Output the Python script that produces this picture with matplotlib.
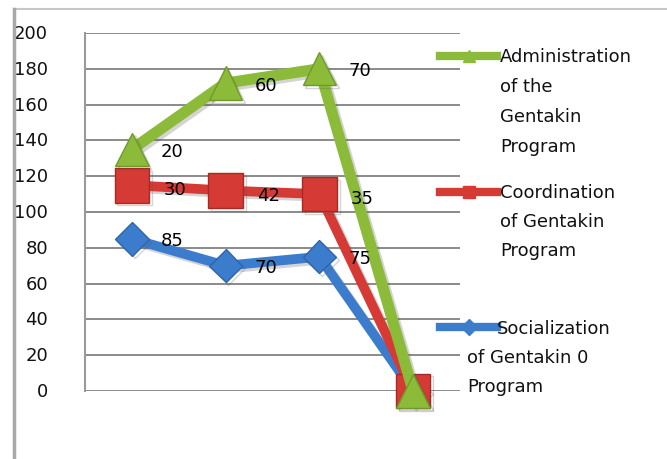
import matplotlib
matplotlib.use("Agg")
import matplotlib.pyplot as plt
from matplotlib.lines import Line2D
import matplotlib.patheffects as pe
import numpy as np

categories = ["1", "2", "3", "4"]
socialization = [85, 70, 75, 0]
coordination = [30, 42, 35, 0]
administration = [20, 60, 70, 0]
yticks = [0, 20, 40, 60, 80, 100, 120, 140, 160, 180, 200]

W, H = 667, 460
fig = plt.figure(figsize=(W / 100, H / 100), dpi=100)
fig.patch.set_facecolor("white")


def fx(x):
    return x / W


def fy(y):
    return 1 - y / H


ax = fig.add_axes([fx(85), fy(392), fx(460) - fx(85), fy(34) - fy(392)])
ax.set_xlim(-0.5, 3.5)
ax.set_ylim(0, 200)
ax.set_yticks(yticks)
ax.set_yticklabels([])
ax.set_xticks([])
for s in ["top", "right", "bottom"]:
    ax.spines[s].set_visible(False)
ax.spines["left"].set_color("#9a9a9a")
ax.spines["left"].set_linewidth(1.5)
ax.tick_params(axis="y", length=0)
for t in yticks:
    ax.axhline(t, color="#8a8a8a", lw=1.4, zorder=0)

# y tick labels (placed outside to the left, right aligned)
for t in yticks:
    ax.annotate(str(t), xy=(0, t), xycoords=("axes fraction", "data"),
                xytext=(-37 * 0.72, 0), textcoords="offset points",
                ha="right", va="center", fontsize=13, color="#111111")

x = np.arange(len(categories))
s1 = np.array(socialization, dtype=float)
s2 = s1 + np.array(coordination)
s3 = s2 + np.array(administration)

blue = "#3b7ccc"
red = "#d63a34"
green = "#8cbb3a"
shadow = [pe.SimpleLineShadow(offset=(2, -2), alpha=0.25, shadow_color="#555555"), pe.Normal()]

ax.plot(x, s1, color=blue, lw=7, marker="D", ms=17, mfc=blue, mec="#2f66aa",
        mew=1, solid_joinstyle="round", path_effects=shadow, zorder=3, clip_on=False)
ax.plot(x, s2, color=red, lw=7, marker="s", ms=25, mfc=red, mec="#a82a26",
        mew=1, solid_joinstyle="round", path_effects=shadow, zorder=4, clip_on=False)
ax.plot(x, s3, color=green, lw=8, marker="^", ms=24, mfc=green, mec="#6f9a2a",
        mew=1, solid_joinstyle="round", path_effects=shadow, zorder=5, clip_on=False)

# data labels
lab_off = (29, -1)
for i in range(3):
    ax.annotate(str(socialization[i]), xy=(x[i], s1[i]), xytext=lab_off,
                textcoords="offset points", ha="center", va="center", fontsize=13, zorder=6)
    ax.annotate(str(coordination[i]), xy=(x[i], s2[i]), xytext=(31, -3),
                textcoords="offset points", ha="center", va="center", fontsize=13, zorder=6)
    ax.annotate(str(administration[i]), xy=(x[i], s3[i]), xytext=lab_off,
                textcoords="offset points", ha="center", va="center", fontsize=13, zorder=6)

# legend (custom, Excel-like wrapped entries)
legend = [
    (green, "^", 57, [(500, 57, "Administration"), (500, 87, "of the"),
                      (500, 117, "Gentakin"), (500, 147, "Program")]),
    (red, "s", 193, [(500, 193, "Coordination"), (500, 222, "of Gentakin"),
                     (500, 251, "Program")]),
    (blue, "D", 328, [(497, 329, "Socialization"), (467, 358, "of Gentakin 0"),
                      (467, 387, "Program")]),
]
for col, mk, ly, lines in legend:
    fig.add_artist(Line2D([fx(440), fx(497)], [fy(ly), fy(ly)], color=col, lw=6,
                          transform=fig.transFigure))
    fig.add_artist(Line2D([fx(469)], [fy(ly)], color=col, marker=mk, ms=8,
                          transform=fig.transFigure))
    for tx, ty, tt in lines:
        fig.text(fx(tx), fy(ty), tt, ha="left", va="center", fontsize=13, color="#111111")

# outer frame lines
fig.add_artist(Line2D([fx(14), fx(667)], [fy(10), fy(10)], color="#c8c8c8", lw=1.5,
                      transform=fig.transFigure))
fig.add_artist(Line2D([fx(14), fx(14)], [fy(10), fy(460)], color="#a8a8a8", lw=2.5,
                      transform=fig.transFigure))

fig.savefig("out.png", dpi=100, facecolor="white")
